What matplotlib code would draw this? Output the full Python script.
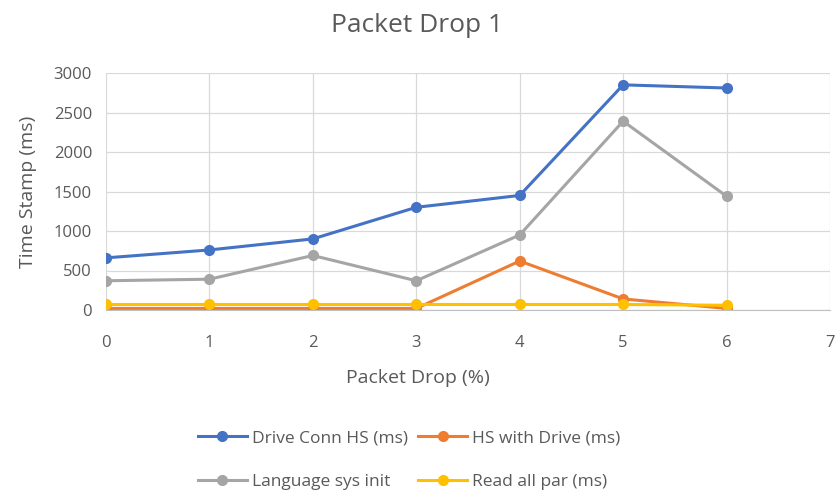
import matplotlib
matplotlib.use("Agg")
import matplotlib.pyplot as plt
from matplotlib.lines import Line2D

plt.rcParams['font.family'] = ['Open Sans', 'DejaVu Sans']

packet_drop = [0, 1, 2, 3, 4, 5, 6]
drive_conn_hs = [660, 760, 900, 1300, 1450, 2850, 2810]
hs_with_drive = [20, 20, 20, 20, 620, 140, 20]
language_sys_init = [370, 390, 690, 370, 950, 2390, 1440]
read_all_par = [70, 70, 70, 70, 70, 70, 60]

series = [
    ("Drive Conn HS (ms)", drive_conn_hs, "#4472C4"),
    ("HS with Drive (ms)", hs_with_drive, "#ED7D31"),
    ("Language sys init", language_sys_init, "#A5A5A5"),
    ("Read all par (ms)", read_all_par, "#FFC000"),
]

text_col = "#595959"
fig = plt.figure(figsize=(8.35, 4.95), dpi=100)
ax = fig.add_axes([106/835, 1-310/495, (830-106)/835, (310-73)/495])

for name, vals, col in series:
    ax.plot(packet_drop, vals, color=col, lw=2.2, marker='o', ms=7, label=name,
            solid_capstyle='round')

ax.set_xlim(0, 7)
ax.set_ylim(0, 3000)
ax.set_xticks(range(0, 8))
ax.set_yticks(range(0, 3001, 500))
ax.grid(True, color="#D9D9D9", lw=0.9)
ax.set_axisbelow(True)
for s in ["top", "right", "left"]:
    ax.spines[s].set_visible(False)
ax.spines["bottom"].set_color("#BFBFBF")
ax.tick_params(axis='both', length=0, labelsize=12, labelcolor=text_col)
ax.tick_params(axis='x', pad=18)
ax.tick_params(axis='y', pad=10)

fig.text(0.5, 1-25/495, "Packet Drop 1", ha='center', va='center', fontsize=19, color=text_col)
fig.text(0.5, 1-378/495, "Packet Drop (%)", ha='center', va='center', fontsize=14, color=text_col)
fig.text(28/835, 1-192/495, "Time Stamp (ms)", ha='center', va='center', fontsize=14,
         color=text_col, rotation=90)

# matplotlib fills legend columns first, so order entries to read row by row
order = [0, 2, 1, 3]
handles = [Line2D([], [], color=series[i][2], lw=2.2, marker='o', ms=7) for i in order]
labels = [series[i][0] for i in order]
fig.legend(handles, labels, ncol=2, loc='center', bbox_to_anchor=(0.49, 1-460/495),
           frameon=False, fontsize=12.5, labelcolor=text_col, handlelength=2.8,
           handletextpad=0.3, columnspacing=0.6, labelspacing=1.6)

fig.savefig("out.png", dpi=100)
